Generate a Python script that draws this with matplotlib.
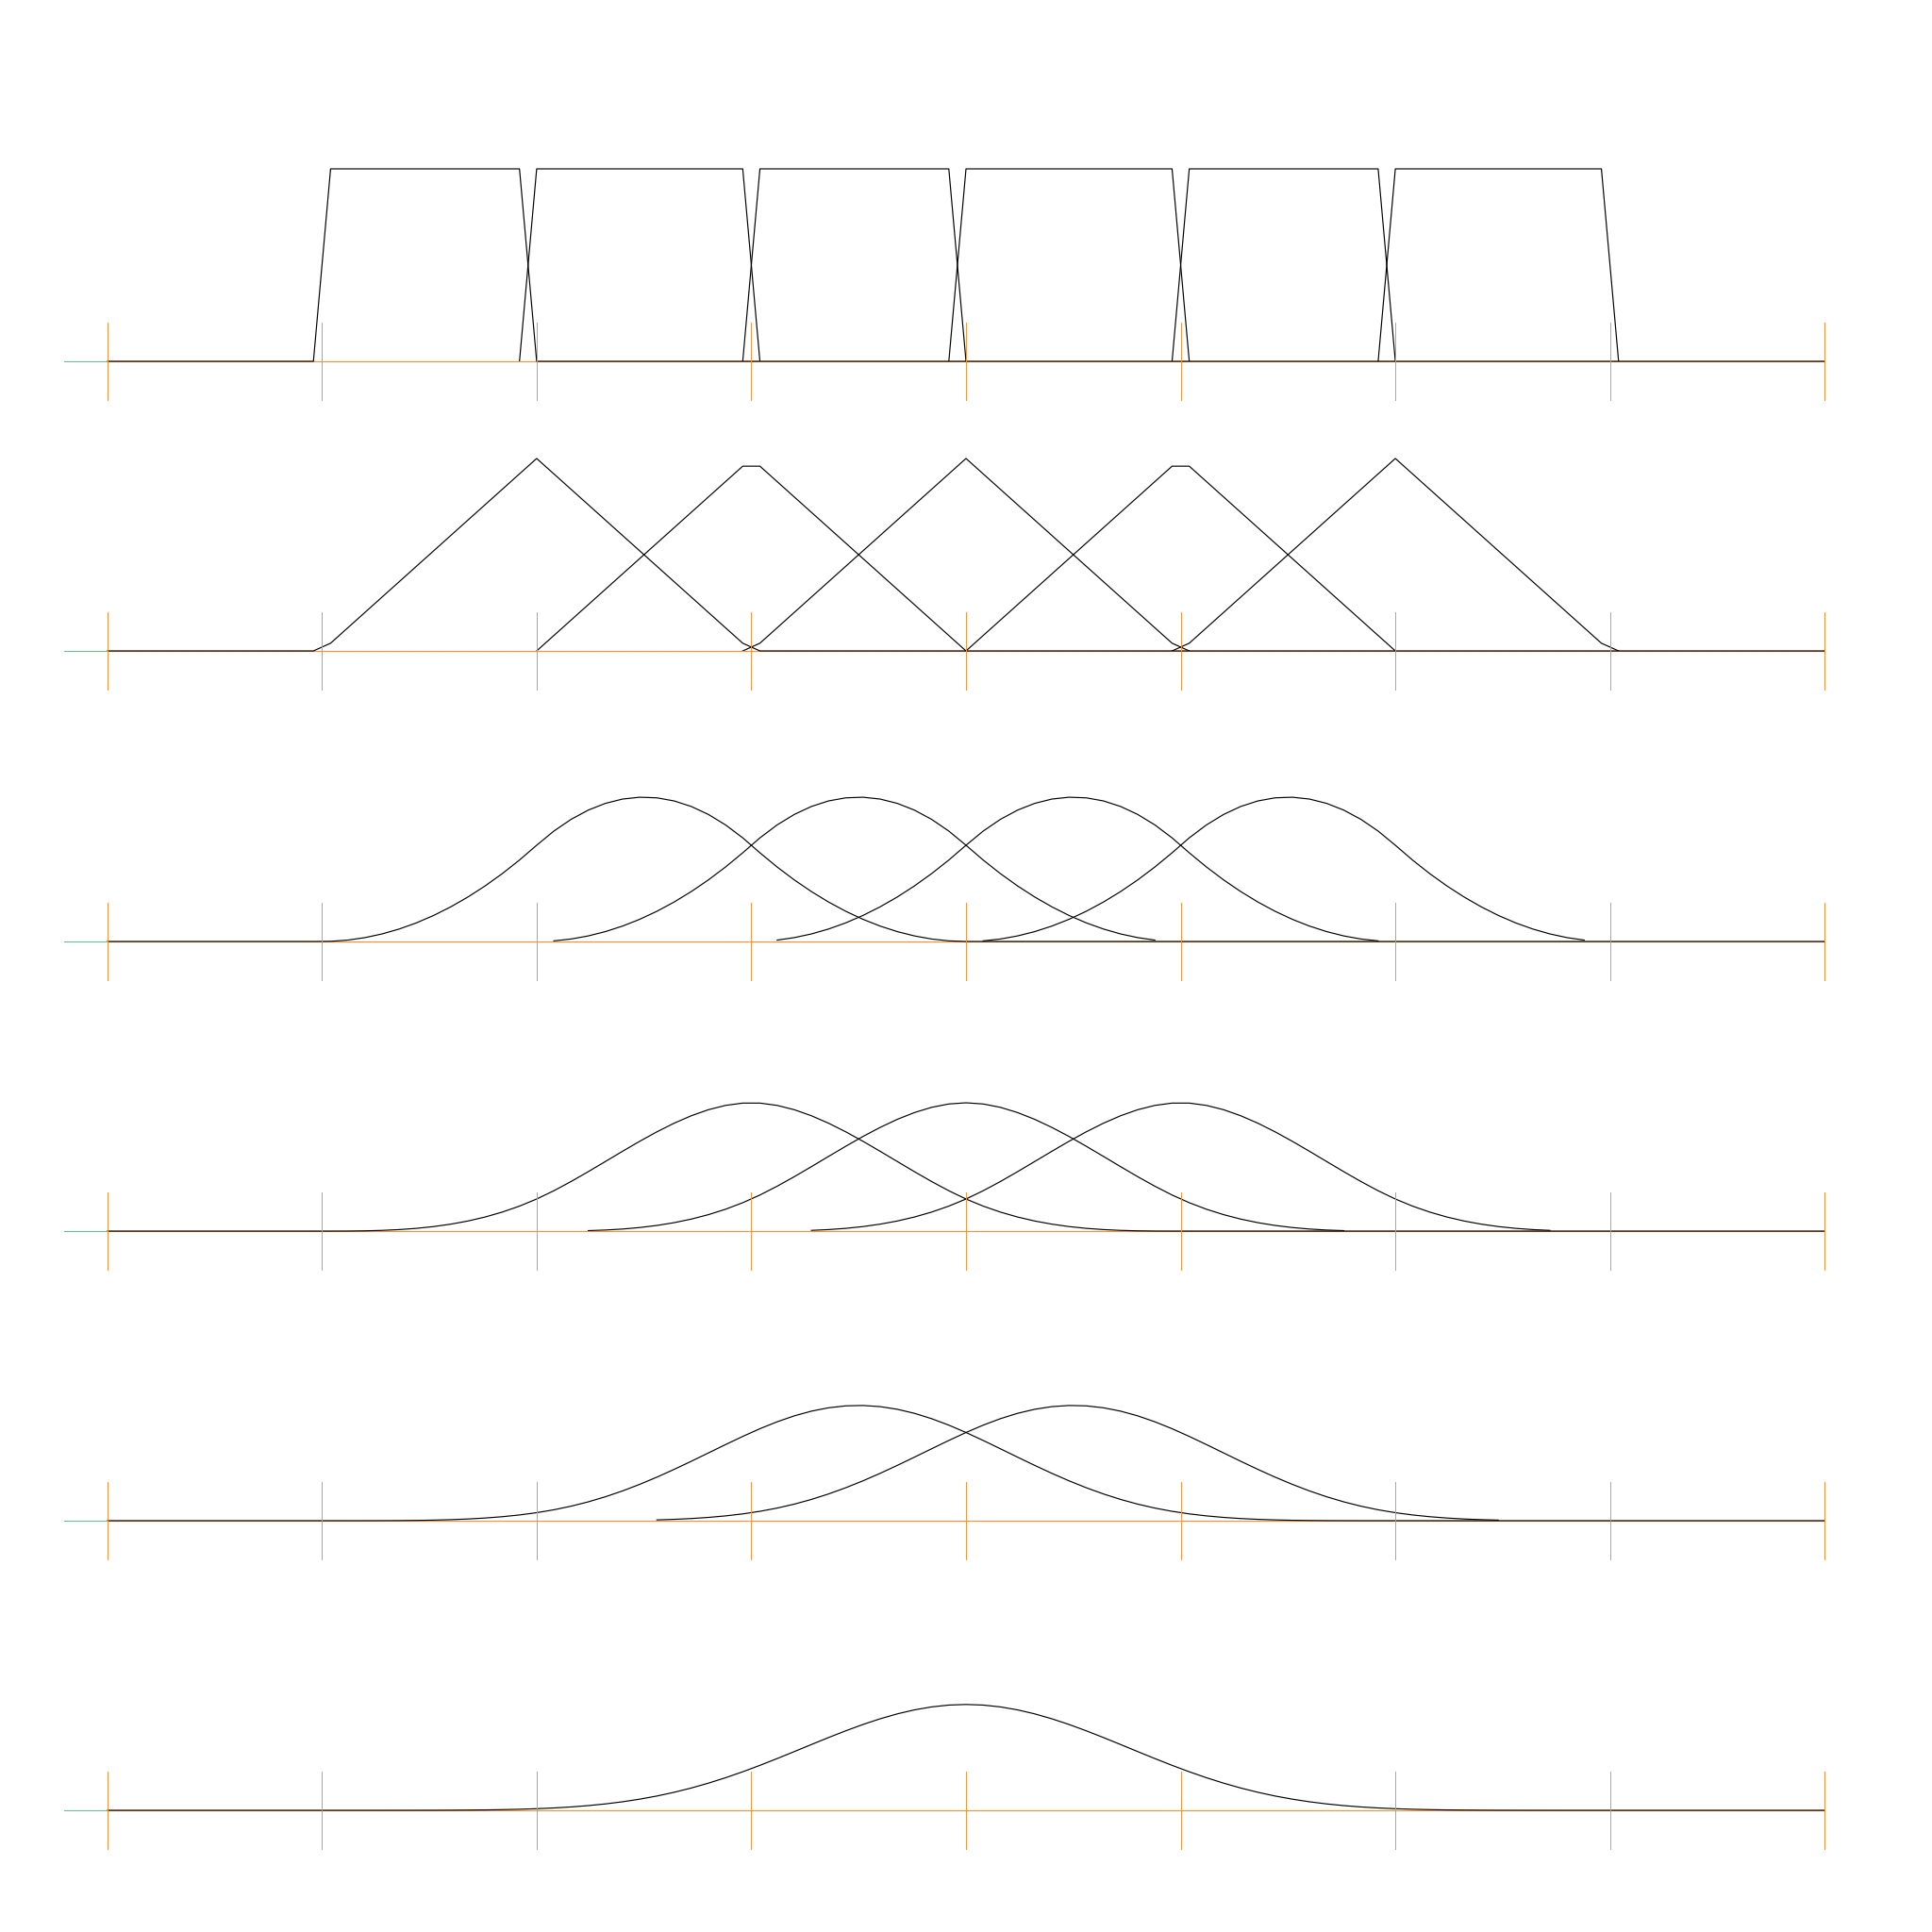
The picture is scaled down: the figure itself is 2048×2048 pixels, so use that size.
import numpy as np
import matplotlib
matplotlib.use("Agg")
import matplotlib.pyplot as plt

# knot vector and degrees of the B-spline basis shown in each row
knots = [1, 2, 3, 4, 5, 6, 7]
degrees = [0, 1, 2, 3, 4, 5]
tick_positions = [0, 1, 2, 3, 4, 5, 6, 7, 8]
x = np.round(np.linspace(0, 8, 101), 10)

AXIS_ORANGE = "#f5923a"
AXIS_GREEN = "#62c190"


def basis(i, k, t, x):
    # Cox-de Boor recursion
    if k == 0:
        return ((x >= t[i]) & (x < t[i + 1])).astype(float)
    left = (x - t[i]) / (t[i + k] - t[i]) * basis(i, k - 1, t, x)
    right = (t[i + k + 1] - x) / (t[i + k + 1] - t[i + 1]) * basis(i + 1, k - 1, t, x)
    return left + right


fig = plt.figure(figsize=(10.24, 10.24), dpi=200)

baselines = [383, 690, 998, 1305, 1612, 1919]  # pixel rows of the zero line
unit = 204.0  # pixels per y unit

for row, k in enumerate(degrees):
    b = baselines[row]
    bottom = 1 - (b + 0.3 * unit) / 2048
    ax = fig.add_axes([0, bottom, 1, 1.5 * unit / 2048])
    ax.set_xlim(-0.5, 8.5)
    ax.set_ylim(-0.3, 1.2)
    ax.axis("off")

    n = len(knots) - k - 1
    for i in range(n):
        y = basis(i, k, knots, x)
        if i == 0:
            # first basis function drawn over the whole range, above the axis
            ax.plot(x, y, color="black", lw=0.42, zorder=3)
            continue
        keep = y > 0.00225
        if k <= 1:
            grown = keep.copy()
            grown[1:] |= keep[:-1]
            grown[:-1] |= keep[1:]
            keep = grown
        ax.plot(x[keep], y[keep], color="black", lw=0.42, zorder=1)

    ax.plot([0, 8], [0, 0], color=AXIS_ORANGE, lw=0.42, zorder=2)
    ax.plot([-0.2, 0], [0, 0], color=AXIS_GREEN, lw=0.38, zorder=4)
    for p in tick_positions:
        ax.plot([p, p], [-0.2, 0.2], color=AXIS_ORANGE, lw=0.35, zorder=4)

fig.savefig("out.png", dpi=200, facecolor="white")
